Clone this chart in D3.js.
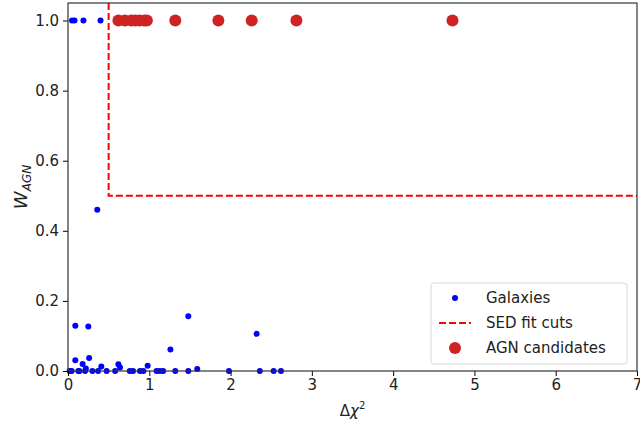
<!DOCTYPE html>
<html>
<head>
<meta charset="utf-8">
<script src="https://cdn.jsdelivr.net/npm/d3@7"></script>
<style>
  body { margin: 0; background: #fff; }
  text { font-family: "DejaVu Sans", sans-serif; }
</style>
</head>
<body>
<div id="chart"></div>
<script>
// galaxies (blue): delta chi^2 and W_AGN
var galX = [0.05, 0.08, 0.19, 0.40, 0.36,
  0.09, 0.25, 1.48, 2.32, 1.26, 0.09, 0.26, 0.18, 0.41, 0.62, 0.64, 0.98, 0.22, 1.59,
  0.02, 0.045, 0.127, 0.21, 0.37, 0.475, 0.58, 0.76, 0.80, 0.886, 0.927, 1.09, 1.13, 1.17, 1.32, 1.48, 1.98, 2.36, 2.53, 2.62, 0.14, 0.30];
var galY = [1.0, 1.0, 1.0, 1.0, 0.46,
  0.129, 0.127, 0.156, 0.106, 0.061, 0.031, 0.037, 0.02, 0.013, 0.019, 0.01, 0.015, 0.007, 0.006,
  0, 0, 0, 0, 0, 0, 0, 0, 0, 0, 0, 0, 0, 0, 0, 0, 0, 0, 0, 0, 0, 0];
// AGN candidates (red)
var agnX = [0.62, 0.70, 0.78, 0.83, 0.88, 0.94, 0.97, 1.32, 1.85, 2.26, 2.81, 4.73];
var agnY = [1, 1, 1, 1, 1, 1, 1, 1, 1, 1, 1, 1];
// SED fit cuts
var cutX = 0.5, cutY = 0.5;
var xTicks = [0, 1, 2, 3, 4, 5, 6, 7];
var yTicks = [0.0, 0.2, 0.4, 0.6, 0.8, 1.0];

var width = 640, height = 433;
var margin = {left: 68, right: 3, top: 3, bottom: 62};

var svg = d3.select('#chart').append('svg')
  .attr('width', width).attr('height', height);

var x = d3.scaleLinear().domain([0, 7]).range([margin.left, width - margin.right]);
var y = d3.scaleLinear().domain([0, 1.05]).range([height - margin.bottom, margin.top]);

var plot = svg.append('g');

// axes
svg.append('g')
  .attr('transform', 'translate(0,' + (height - margin.bottom) + ')')
  .call(d3.axisBottom(x).tickValues(xTicks).tickFormat(d3.format('d')).tickSizeOuter(0).tickSize(5).tickPadding(3))
  .call(function (g) {
    g.selectAll('text').attr('font-size', 15).attr('fill', '#222')
    g.select('.domain').remove()
  })

svg.append('g')
  .attr('transform', 'translate(' + margin.left + ',0)')
  .call(d3.axisLeft(y).tickValues(yTicks).tickFormat(d3.format('.1f')).tickSizeOuter(0).tickSize(5).tickPadding(4))
  .call(function (g) {
    g.selectAll('text').attr('font-size', 15).attr('fill', '#222')
    g.select('.domain').remove()
  })

// frame
svg.append('rect')
  .attr('x', margin.left).attr('y', margin.top)
  .attr('width', width - margin.left - margin.right)
  .attr('height', height - margin.top - margin.bottom)
  .attr('fill', 'none').attr('stroke', '#333').attr('stroke-width', 1.2)

// cut lines
plot.append('path')
  .attr('d', d3.line()([[x(cutX), y(1.05)], [x(cutX), y(cutY)], [x(7), y(cutY)]]))
  .attr('fill', 'none').attr('stroke', '#ff0000').attr('stroke-width', 2)
  .attr('stroke-dasharray', '7,3')

// galaxies
plot.append('g').selectAll('circle')
  .data(galX)
  .enter().append('circle')
    .attr('cx', function (d) { return x(d) })
    .attr('cy', function (d, i) { return y(galY[i]) })
    .attr('r', 3)
    .attr('fill', '#0000ff')

// agn
plot.append('g').selectAll('circle')
  .data(agnX)
  .enter().append('circle')
    .attr('cx', function (d) { return x(d) })
    .attr('cy', function (d, i) { return y(agnY[i]) })
    .attr('r', 6)
    .attr('fill', '#cd2323')

// axis labels
var xl = svg.append('text')
  .attr('x', (x(0) + x(7)) / 2).attr('y', 416)
  .attr('text-anchor', 'middle').attr('font-size', 15).attr('fill', '#222')
xl.append('tspan').text('Δ')
xl.append('tspan').attr('font-style', 'italic').text('χ')
xl.append('tspan').attr('font-size', 10).attr('dy', -7).text('2')

var yl = svg.append('text')
  .attr('transform', 'translate(27,' + ((y(0) + y(1.05)) / 2) + ') rotate(-90)')
  .attr('text-anchor', 'middle').attr('font-size', 18).attr('fill', '#222')
yl.append('tspan').attr('font-style', 'italic').text('W')
yl.append('tspan').attr('font-style', 'italic').attr('font-size', 12).attr('dy', 4).text('AGN')

// legend
var lg = svg.append('g').attr('transform', 'translate(431,283)')
lg.append('rect')
  .attr('width', 196).attr('height', 81).attr('rx', 3)
  .attr('fill', '#fff').attr('fill-opacity', 0.8)
  .attr('stroke', '#d8d8d8')
var items = ['Galaxies', 'SED fit cuts', 'AGN candidates'];
items.forEach(function (name, i) {
  var cy = 15 + i * 25
  if (i == 0) lg.append('circle').attr('cx', 24).attr('cy', cy).attr('r', 3).attr('fill', '#0000ff')
  if (i == 1) lg.append('line').attr('x1', 8).attr('x2', 40).attr('y1', cy).attr('y2', cy)
    .attr('stroke', '#ff0000').attr('stroke-width', 2).attr('stroke-dasharray', '7,3')
  if (i == 2) lg.append('circle').attr('cx', 24).attr('cy', cy).attr('r', 6).attr('fill', '#cd2323')
  lg.append('text').attr('x', 55).attr('y', cy + 5).attr('font-size', 15).attr('fill', '#222').text(name)
})
</script>
</body>
</html>
